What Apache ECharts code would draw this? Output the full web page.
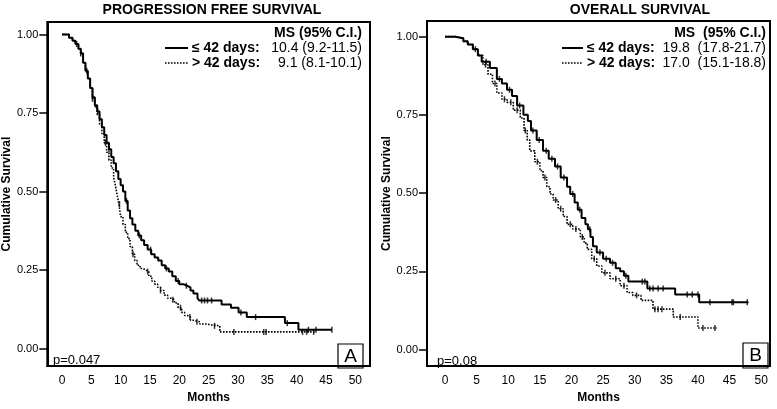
<!DOCTYPE html>
<html>
<head>
<meta charset="utf-8">
<script src="https://cdn.jsdelivr.net/npm/echarts@6/dist/echarts.min.js"></script>
<style>
html,body{margin:0;padding:0;background:#fff;}
#chart{width:777px;height:409px;}
</style>
</head>
<body>
<div id="chart"></div>
<script>
// ---- Data ----
var monthTicks = [0,5,10,15,20,25,30,35,40,45,50];
var survTicks = [0,0.25,0.5,0.75,1];

// Progression free survival, <= 42 days (solid)
var pfsShortT = [0,1.2,1.8,2.3,2.8,3.2,3.6,4.0,4.4,4.8,5.2,5.6,6.0,6.4,6.8,7.2,7.6,8.0,8.4,8.8,9.2,9.6,10.0,10.4,10.8,11.2,11.6,12.0,12.5,13.0,13.5,14.0,14.6,15.2,15.8,16.4,17.0,17.6,18.2,18.8,19.4,20.0,20.7,21.3,21.9,22.4,23.1,23.4,27.2,28.8,30.1,31.5,38.0,40.3,46.0];
var pfsShortS = [1.0,0.99,0.98,0.97,0.955,0.94,0.91,0.885,0.86,0.83,0.80,0.775,0.755,0.73,0.705,0.68,0.655,0.635,0.61,0.59,0.565,0.54,0.52,0.50,0.47,0.44,0.415,0.395,0.375,0.36,0.345,0.33,0.315,0.30,0.29,0.28,0.265,0.255,0.245,0.23,0.215,0.205,0.20,0.195,0.185,0.175,0.16,0.153,0.14,0.13,0.115,0.10,0.081,0.06,0.06];
var pfsShortCens = [2.5,4.2,6.1,8.0,11.0,13.2,15.1,17.8,19.8,21.2,23.8,24.3,24.8,25.5,30.5,33.0,38.4,42.0,43.3,46.0];

// Progression free survival, > 42 days (dotted)
var pfsLongT = [0,1.2,1.8,2.3,2.8,3.2,3.6,4.0,4.4,4.8,5.2,5.6,6.0,6.4,6.8,7.2,7.6,8.0,8.4,8.8,9.1,9.4,9.7,10.0,10.4,10.8,11.2,11.6,12.0,12.4,12.8,13.3,13.8,14.3,14.8,15.3,15.8,16.3,16.8,17.4,18.0,18.6,19.2,19.8,20.4,20.9,21.4,21.9,22.4,23.5,24.5,26.9,43.2];
var pfsLongS = [1.0,0.99,0.98,0.97,0.955,0.94,0.91,0.885,0.86,0.83,0.795,0.77,0.745,0.715,0.685,0.655,0.625,0.60,0.575,0.545,0.52,0.49,0.46,0.42,0.395,0.37,0.35,0.325,0.30,0.28,0.265,0.255,0.25,0.245,0.23,0.215,0.205,0.195,0.185,0.17,0.16,0.155,0.145,0.13,0.115,0.105,0.10,0.09,0.085,0.078,0.072,0.053,0.053];
var pfsLongCens = [3.2,5.2,7.4,9.8,12.1,14.6,16.8,18.9,20.2,21.8,23.0,26.0,29.3,34.4,34.8,41.0,41.7,42.9];

// Overall survival, <= 42 days (solid)
var osShortT = [0,1.6,2.9,3.6,4.4,5.2,5.8,7.1,8.2,9.0,9.8,10.6,11.4,12.4,13.1,13.6,14.5,15.5,16.4,17.4,18.3,19.3,19.8,20.5,21.0,21.6,22.2,22.6,23.0,23.4,24.0,25.0,26.1,27.0,27.7,28.3,29.0,32.0,36.4,40.2,48.0];
var osShortS = [1.0,0.995,0.985,0.975,0.96,0.94,0.92,0.90,0.865,0.85,0.83,0.81,0.78,0.75,0.73,0.70,0.67,0.635,0.61,0.585,0.55,0.52,0.497,0.47,0.447,0.42,0.40,0.384,0.36,0.33,0.31,0.29,0.277,0.26,0.25,0.236,0.217,0.195,0.176,0.151,0.151];
var osShortCens = [4.8,6.5,8.6,10.2,11.8,13.9,14.9,16.0,16.9,17.8,18.8,20.2,21.3,22.9,24.5,25.5,26.5,28.6,31.2,31.6,32.4,32.9,33.7,34.5,38.3,39.1,40.0,41.9,45.4,45.6,47.8];

// Overall survival, > 42 days (dotted)
var osLongT = [0,1.6,2.9,3.6,4.4,5.2,6.0,6.8,7.5,8.2,9.0,9.8,10.8,11.9,12.5,13.0,13.4,14.2,15.0,15.5,16.1,16.6,17.1,17.9,18.7,19.3,20.2,21.4,22.0,22.5,23.2,24.0,24.8,26.1,27.7,28.8,29.7,31.0,32.9,36.1,40.0,43.0];
var osLongS = [1.0,0.995,0.985,0.975,0.96,0.94,0.91,0.88,0.85,0.82,0.80,0.79,0.765,0.74,0.70,0.67,0.635,0.60,0.572,0.55,0.52,0.497,0.478,0.45,0.425,0.40,0.385,0.36,0.34,0.32,0.29,0.267,0.245,0.226,0.204,0.182,0.173,0.157,0.129,0.104,0.069,0.069];
var osLongCens = [6.4,7.9,9.4,10.4,11.4,12.7,14.6,15.8,17.5,18.3,19.8,20.7,21.7,23.6,25.3,27.0,28.3,30.3,33.2,33.7,34.3,37.2,40.8,42.7];

// Legend / annotation text
var pfsTitle = 'PROGRESSION FREE SURVIVAL';
var osTitle = 'OVERALL SURVIVAL';
var groupLabels = ['\u2264 42 days:', '> 42 days:'];
var pfsMS = ['10.4 (9.2-11.5)', '9.1 (8.1-10.1)'];
var osMS = ['19.8  (17.8-21.7)', '17.0  (15.1-18.8)'];
var pfsHeader = 'MS (95% C.I.)';
var osHeader = 'MS  (95% C.I.)';
var pValues = ['p=0.047', 'p=0.08'];
var panelLetters = ['A', 'B'];

// ---- helpers ----
function pairs(t, s) { return t.map(function (v, i) { return [v, s[i]]; }); }
function stepAt(t, s, x) {
  var v = s[0];
  for (var i = 0; i < t.length; i++) { if (t[i] <= x) v = s[i]; }
  return v;
}
function cens(t, s, c) { return c.map(function (x) { return [x, stepAt(t, s, x)]; }); }

var FONT = '"Liberation Sans", Arial, Helvetica, sans-serif';

function xAx(idx, min, max) {
  return {
    gridIndex: idx, type: 'value', min: min, max: max,
    name: 'Months', nameLocation: 'middle', nameGap: 22,
    nameTextStyle: { fontFamily: FONT, fontWeight: 'bold', fontSize: 12, color: '#000' },
    axisLine: { show: true, onZero: false, lineStyle: { color: '#000', width: 2 } },
    axisTick: { show: false, customValues: monthTicks },
    axisLabel: { customValues: monthTicks, fontFamily: FONT, fontSize: 12, color: '#000', margin: 9 },
    splitLine: { show: false }
  };
}
function yAx(idx, min, max, gap) {
  return {
    gridIndex: idx, type: 'value', min: min, max: max,
    name: 'Cumulative Survival', nameLocation: 'middle', nameGap: gap, nameRotate: 90,
    nameTextStyle: { fontFamily: FONT, fontWeight: 'bold', fontSize: 12, color: '#000' },
    axisLine: { show: true, onZero: false, lineStyle: { color: '#000', width: 2 } },
    axisTick: { show: true, inside: false, length: 8, customValues: survTicks, lineStyle: { color: '#000', width: 1.5 } },
    axisLabel: { customValues: survTicks, fontFamily: FONT, fontSize: 11, color: '#000', margin: 9,
      formatter: function (v) { return v.toFixed(2); } },
    splitLine: { show: false }
  };
}
function curve(idx, data, dotted) {
  return {
    type: 'line', xAxisIndex: idx, yAxisIndex: idx, data: data, step: 'end',
    symbol: 'none', silent: true, animation: false,
    lineStyle: { color: '#000', width: dotted ? 1.6 : 2, type: dotted ? [1.6, 1.4] : 'solid' }
  };
}
function marks(idx, data) {
  return {
    type: 'scatter', xAxisIndex: idx, yAxisIndex: idx, data: data,
    symbol: 'rect', symbolSize: [1.5, 6], itemStyle: { color: '#000' }, silent: true, animation: false
  };
}

function legendBlock(lineX0, lineX1, labelX, rightX, header, values) {
  var els = [];
  els.push({ type: 'text', x: rightX, y: 33, style: { text: header, font: 'bold 14px ' + FONT, fill: '#000', align: 'right', verticalAlign: 'middle' } });
  var ys = [48, 63];
  for (var i = 0; i < 2; i++) {
    els.push({ type: 'line', shape: { x1: lineX0, y1: ys[i], x2: lineX1, y2: ys[i] },
      style: { stroke: '#000', lineWidth: i === 0 ? 2 : 1.6, lineDash: i === 0 ? null : [1.6, 1.4] } });
    els.push({ type: 'text', x: labelX, y: ys[i], style: { text: groupLabels[i], font: 'bold 14px ' + FONT, fill: '#000', align: 'left', verticalAlign: 'middle' } });
    els.push({ type: 'text', x: rightX, y: ys[i], style: { text: values[i], font: '14px ' + FONT, fill: '#000', align: 'right', verticalAlign: 'middle' } });
  }
  return els;
}

var chart = echarts.init(document.getElementById('chart'), null, { renderer: 'canvas' });

var graphics = [];
graphics.push({ type: 'text', x: 212, y: 10, style: { text: pfsTitle, font: 'bold 14px ' + FONT, fill: '#000', align: 'center', verticalAlign: 'middle' } });
graphics.push({ type: 'text', x: 640, y: 10, style: { text: osTitle, font: 'bold 14px ' + FONT, fill: '#000', align: 'center', verticalAlign: 'middle' } });
graphics = graphics.concat(legendBlock(165, 188, 192, 362, pfsHeader, pfsMS));
graphics = graphics.concat(legendBlock(562, 583, 587, 766, osHeader, osMS));
graphics.push({ type: 'text', x: 53, y: 360, style: { text: pValues[0], font: '13px ' + FONT, fill: '#000', align: 'left', verticalAlign: 'middle' } });
graphics.push({ type: 'text', x: 437, y: 361, style: { text: pValues[1], font: '13px ' + FONT, fill: '#000', align: 'left', verticalAlign: 'middle' } });
graphics.push({ type: 'rect', shape: { x: 338, y: 344, width: 25, height: 24 }, style: { fill: '#fff', stroke: '#000', lineWidth: 1.2 } });
graphics.push({ type: 'text', x: 350.5, y: 356.5, style: { text: panelLetters[0], font: '19px ' + FONT, fill: '#000', align: 'center', verticalAlign: 'middle' } });
graphics.push({ type: 'rect', shape: { x: 743, y: 343, width: 25, height: 25 }, style: { fill: '#fff', stroke: '#000', lineWidth: 1.2 } });
graphics.push({ type: 'text', x: 755.5, y: 356, style: { text: panelLetters[1], font: '19px ' + FONT, fill: '#000', align: 'center', verticalAlign: 'middle' } });

var option = {
  backgroundColor: '#fff',
  animation: false,
  grid: [
    { left: 46, top: 22, width: 324, height: 351, show: true, borderColor: '#000', borderWidth: 2, containLabel: false },
    { left: 427, top: 21, width: 343, height: 351, show: true, borderColor: '#000', borderWidth: 2, containLabel: false }
  ],
  xAxis: [xAx(0, -2.5, 52.5), xAx(1, -2.85, 51.4)],
  yAxis: [yAx(0, -0.056, 1.04, 32), yAx(1, -0.053, 1.05, 20)],
  series: [
    curve(0, pairs(pfsShortT, pfsShortS), false),
    curve(0, pairs(pfsLongT, pfsLongS), true),
    marks(0, cens(pfsShortT, pfsShortS, pfsShortCens)),
    marks(0, cens(pfsLongT, pfsLongS, pfsLongCens)),
    curve(1, pairs(osShortT, osShortS), false),
    curve(1, pairs(osLongT, osLongS), true),
    marks(1, cens(osShortT, osShortS, osShortCens)),
    marks(1, cens(osLongT, osLongS, osLongCens))
  ],
  graphic: { elements: graphics }
};
chart.setOption(option);
</script>
</body>
</html>
